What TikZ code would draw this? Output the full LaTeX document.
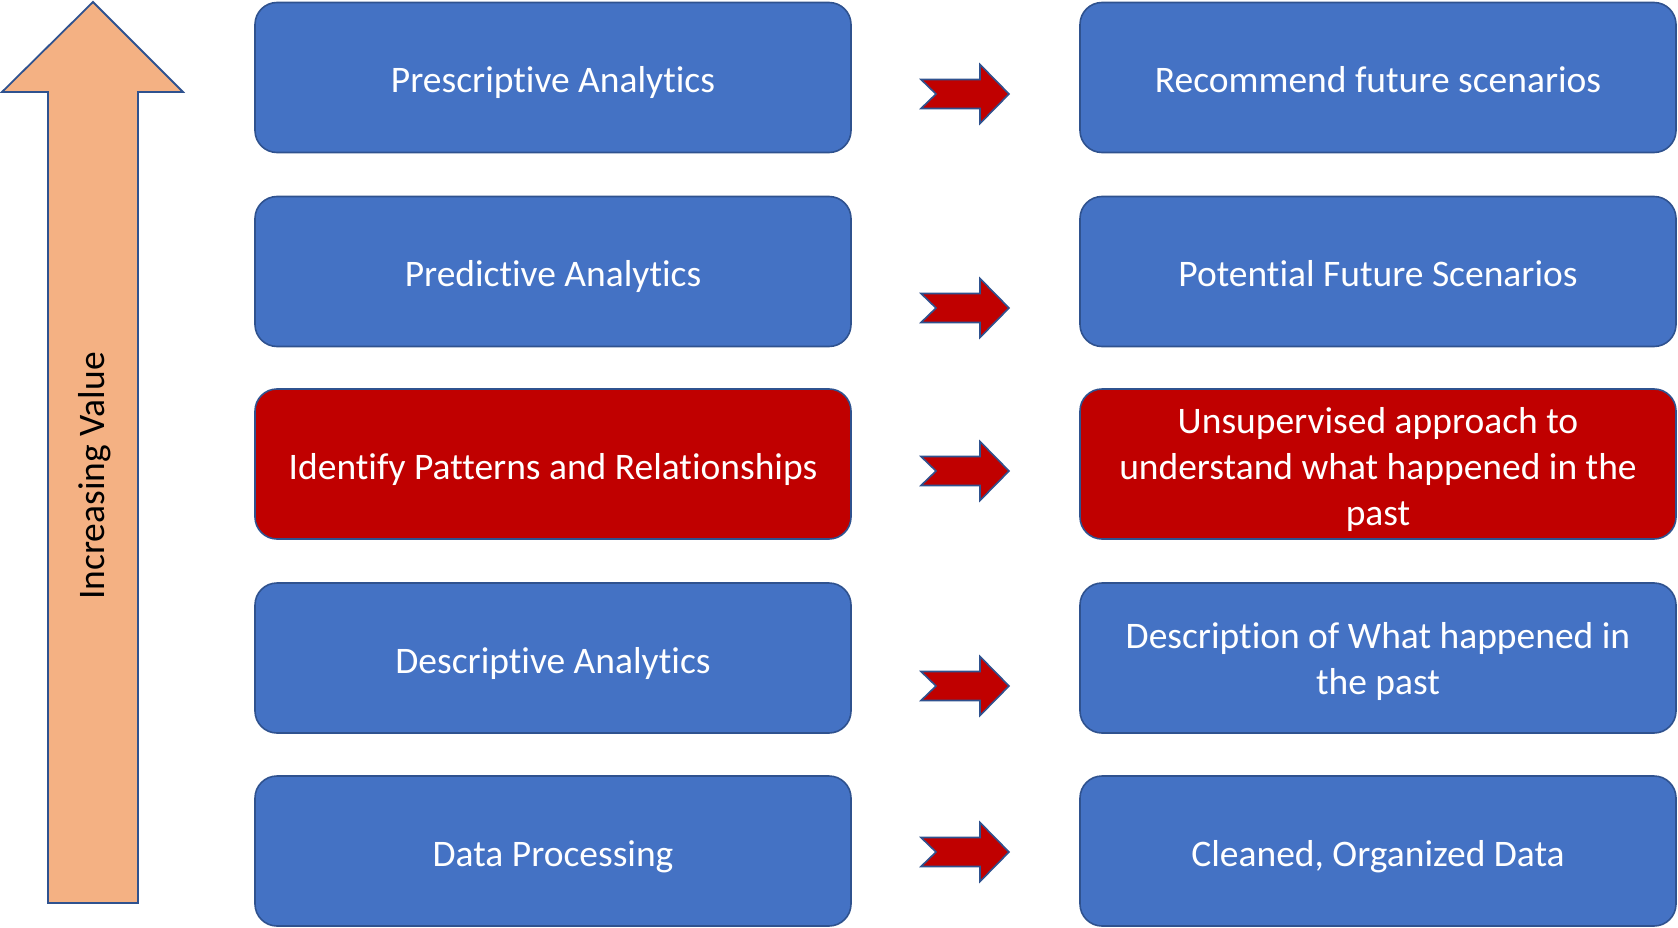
\documentclass[tikz,border=0pt]{standalone}
\usepackage{fontspec}
\setmainfont{Carlito}[Ligatures=NoCommon]
\definecolor{boxblue}{HTML}{4472C4}
\definecolor{boxedge}{HTML}{2F528F}
\definecolor{boxred}{HTML}{C00000}
\definecolor{arroworange}{HTML}{F4B183}
\begin{document}
\begin{tikzpicture}[x=1pt,y=-1pt,
  card/.style={draw=boxedge, line width=1.6pt, fill=boxblue, rounded corners=22pt,
    minimum width=596pt, minimum height=150pt, inner sep=0pt},
  hot/.style={card, fill=boxred},
  txt/.style={text=white, align=center, inner sep=0pt,
    font=\fontsize{37.5}{46}\selectfont},
  txtone/.style={txt, text height=0.72em, text depth=0.22em},
  chev/.style={draw=boxedge, line width=1.6pt, fill=boxred, line join=miter}
]
\useasboundingbox (0,0) rectangle (1678,928);

% big value arrow
\draw[draw=boxedge, line width=1.8pt, fill=arroworange, line join=miter]
  (93,2) -- (183,92) -- (138,92) -- (138,903) -- (48,903) -- (48,92) -- (2,92) -- cycle;
\node[rotate=90, font=\fontsize{37.5}{46}\selectfont, text=black] (value) at (95,476) {Increasing Value};

% left column
\node[card] (l1) at (553,77.5) {};
\node[card] (l2) at (553,271.5) {};
\node[hot]  (l3) at (553,464) {};
\node[card] (l4) at (553,658) {};
\node[card] (l5) at (553,851) {};
\node[txtone] (l1t) at ([yshift=-12.5pt]l1.center) {Prescriptive Analytics};
\node[txtone] (l2t) at ([yshift=-12.5pt]l2.center) {Predictive Analytics};
\node[txtone] (l3t) at ([yshift=-12.5pt]l3.center) {Identify Patterns and Relationships};
\node[txtone] (l4t) at ([yshift=-12.5pt]l4.center) {Descriptive Analytics};
\node[txtone] (l5t) at ([yshift=-12.5pt]l5.center) {Data Processing};

% right column
\node[card] (r1) at (1378,77.5) {};
\node[card] (r2) at (1378,271.5) {};
\node[hot]  (r3) at (1378,464) {};
\node[card] (r4) at (1378,658) {};
\node[card] (r5) at (1378,851) {};
\node[txtone] (r1t) at ([yshift=-12.5pt]r1.center) {Recommend future scenarios};
\node[txtone] (r2t) at ([yshift=-12.5pt]r2.center) {Potential Future Scenarios};
\node[txt] (r3t) at ([yshift=-5pt]r3.center) {Unsupervised approach to\\understand what happened in the\\past};
\node[txt] (r4t) at ([yshift=-3pt]r4.center) {Description of What happened in\\the past};
\node[txtone] (r5t) at ([yshift=-12.5pt]r5.center) {Cleaned, Organized Data};

% chevron arrows (tips)
\foreach \n/\ty in {1/94, 2/308, 3/471, 4/686, 5/852}{
  \coordinate (t\n) at (1009,\ty);
  \draw[chev] (t\n) ++(-88,-14.5) -- ++(59,0) -- ++(0,-15) -- (t\n)
     -- ++(-29,29.5) -- ++(0,-15) -- ++(-59,0) -- ++(15,-14.5) -- cycle;
}
\end{tikzpicture}
\end{document}
